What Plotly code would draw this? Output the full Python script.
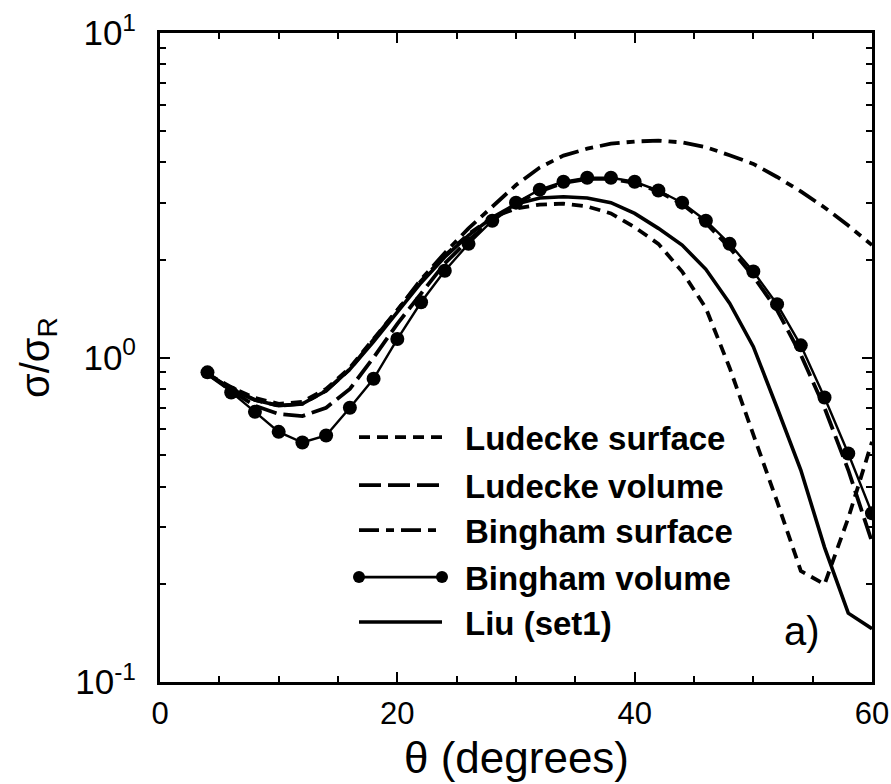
import plotly.graph_objects as go

# ---------------- data ----------------
theta = [4, 6, 8, 10, 12, 14, 16, 18, 20, 22, 24, 26, 28, 30, 32, 34, 36, 38,
         40, 42, 44, 46, 48, 50, 52, 54, 56, 58, 60]

ludecke_surface = [0.89, 0.81, 0.75, 0.72, 0.73, 0.80, 0.93, 1.14, 1.40, 1.72,
                   2.06, 2.40, 2.70, 2.88, 2.96, 2.98, 2.92, 2.78, 2.52, 2.24,
                   1.84, 1.42, 0.93, 0.58, 0.36, 0.22, 0.20, 0.32, 0.55]
ludecke_volume = [0.89, 0.79, 0.71, 0.67, 0.66, 0.70, 0.80, 1.00, 1.27, 1.58,
                  1.95, 2.30, 2.64, 2.98, 3.25, 3.45, 3.55, 3.55, 3.45, 3.25,
                  2.97, 2.60, 2.18, 1.78, 1.40, 1.02, 0.70, 0.45, 0.27]
bingham_surface = [0.89, 0.80, 0.74, 0.71, 0.72, 0.79, 0.92, 1.13, 1.40, 1.74,
                   2.10, 2.50, 2.92, 3.40, 3.85, 4.19, 4.40, 4.56, 4.63, 4.66,
                   4.60, 4.45, 4.20, 3.95, 3.60, 3.25, 2.90, 2.55, 2.22]
bingham_volume = [0.90, 0.78, 0.68, 0.59, 0.547, 0.575, 0.70, 0.86, 1.14, 1.48,
                  1.85, 2.24, 2.64, 3.00, 3.29, 3.48, 3.58, 3.58, 3.48, 3.27,
                  3.00, 2.64, 2.24, 1.84, 1.46, 1.09, 0.753, 0.506, 0.331]
liu_set1 = [0.89, 0.80, 0.74, 0.71, 0.72, 0.79, 0.92, 1.12, 1.38, 1.70,
            2.04, 2.38, 2.70, 2.97, 3.10, 3.13, 3.10, 3.00, 2.78, 2.50,
            2.22, 1.87, 1.47, 1.08, 0.70, 0.45, 0.26, 0.163, 0.146]

series_names = ["Ludecke surface", "Ludecke volume", "Bingham surface",
                "Bingham volume", "Liu (set1)"]

x_tick_vals = [0, 20, 40, 60]
y_tick_vals = [0.1, 1, 10]
y_tick_text = ["10<sup>-1</sup>", "10<sup>0</sup>", "10<sup>1</sup>"]

# ---------------- styles ----------------
FONT = "Liberation Sans, Arial, Helvetica, sans-serif"
styles = {
    "Ludecke surface": dict(dash="11px,7px", width=3.8),
    "Ludecke volume": dict(dash="22px,7px", width=3.8),
    "Bingham surface": dict(dash="20px,7px,8px,7px", width=3.8),
    "Bingham volume": dict(dash="solid", width=2.4),
    "Liu (set1)": dict(dash="solid", width=3.6),
}
series_vals = [ludecke_surface, ludecke_volume, bingham_surface,
               bingham_volume, liu_set1]

fig = go.Figure()
for name, vals in zip(series_names, series_vals):
    st = styles[name]
    mode = "lines+markers" if name == "Bingham volume" else "lines"
    fig.add_trace(go.Scatter(
        x=theta, y=vals, mode=mode, name=name, showlegend=False,
        line=dict(color="black", width=st["width"], dash=st["dash"]),
        marker=dict(color="black", size=14) if mode != "lines" else None,
        cliponaxis=True,
    ))

# ---------------- manual legend (overlay pixel-like axes) ----------------
PL, PR, PT, PB = 160, 872, 32.5, 682
leg_x0, leg_x1, leg_text_x = 359, 442, 463
leg_rows = [437, 485, 530, 577, 622]
for name, ry in zip(series_names, leg_rows):
    st = styles[name]
    mode = "lines+markers" if name == "Bingham volume" else "lines"
    fig.add_trace(go.Scatter(
        x=[leg_x0, leg_x1], y=[ry, ry], mode=mode, xaxis="x2", yaxis="y2",
        showlegend=False, hoverinfo="skip",
        line=dict(color="black", width=st["width"] if name != "Bingham volume" else 2.6,
                  dash=st["dash"]),
        marker=dict(color="black", size=12) if mode != "lines" else None,
    ))
    fig.add_annotation(x=leg_text_x, y=ry + 1, xref="x2", yref="y2",
                       text=name, showarrow=False, xanchor="left",
                       yanchor="middle",
                       font=dict(family=FONT, size=33, color="black",
                                 weight="bold"))

fig.add_annotation(x=802, y=631, xref="x2", yref="y2", text="a)",
                   showarrow=False, xanchor="center", yanchor="middle",
                   font=dict(family=FONT, size=40, color="black"))

# axis titles
fig.add_annotation(x=0.5, y=-0.117, xref="paper", yref="paper",
                   text="θ (degrees)", showarrow=False, xanchor="center",
                   yanchor="middle", font=dict(family=FONT, size=44, color="black"))
fig.add_annotation(x=-0.172, y=0.5, xref="paper", yref="paper",
                   text="σ/σ<sub>R</sub>", showarrow=False, textangle=-90,
                   xanchor="center", yanchor="middle",
                   font=dict(family=FONT, size=40, color="black"))

W, H = 891, 784
fig.update_layout(
    template="none",
    width=W, height=H,
    margin=dict(l=PL, r=W - PR, t=PT, b=H - PB, pad=0),
    paper_bgcolor="white", plot_bgcolor="white",
    showlegend=False,
    font=dict(family=FONT, color="black"),
    xaxis=dict(
        range=[0, 60], tickvals=x_tick_vals, ticks="inside", ticklen=10,
        tickwidth=1.5, tickcolor="black", automargin=False,
        showline=True, linewidth=3, linecolor="black", mirror="ticks",
        showgrid=False, zeroline=False, ticklabelstandoff=2,
        tickfont=dict(family=FONT, size=31, color="black"),
        minor=dict(dtick=5, ticks="inside", ticklen=6, tickwidth=1.5,
                   tickcolor="black", showgrid=False),
    ),
    yaxis=dict(
        type="log", range=[-1, 1], tickvals=y_tick_vals, ticktext=y_tick_text,
        ticks="inside", ticklen=10, tickwidth=1.5, tickcolor="black",
        automargin=False, ticklabelstandoff=14,
        showline=True, linewidth=3, linecolor="black", mirror="ticks",
        showgrid=False, zeroline=False,
        tickfont=dict(family=FONT, size=35, color="black"),
        minor=dict(dtick="D1", ticks="inside", ticklen=6, tickwidth=1.5,
                   tickcolor="black", showgrid=False),
    ),
    xaxis2=dict(overlaying="x", range=[PL, PR], visible=False, fixedrange=True,
                automargin=False),
    yaxis2=dict(overlaying="y", range=[PB, PT], visible=False, fixedrange=True,
                automargin=False),
)

fig.write_html("out.html")
